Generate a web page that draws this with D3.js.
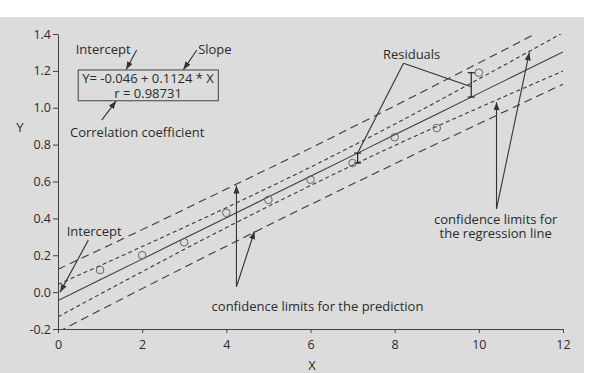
<!DOCTYPE html>
<html>
<head>
<meta charset="utf-8">
<script src="https://cdn.jsdelivr.net/npm/d3@7"></script>
<style>
  body { margin: 0; background: #fff; }
  svg text { font-family: "Open Sans", sans-serif; fill: #2b2b2b; }
</style>
</head>
<body>
<div id="chart"></div>
<script>
// observed points
const xValues = [1, 2, 3, 4, 5, 6, 7, 8, 9, 10];
const yValues = [0.12, 0.2, 0.27, 0.43, 0.5, 0.61, 0.7, 0.84, 0.89, 1.19];

// regression line Y = -0.046 + 0.1124 * X, read at the band stations
const bandX = [0, 2, 4, 6, 8, 10, 12];
const fitY = [-0.046, 0.179, 0.404, 0.628, 0.853, 1.078, 1.303];
// confidence limits for the regression line (short dash)
const ciUpper = [0.042, 0.247, 0.458, 0.678, 0.911, 1.156, 1.407];
const ciLower = [-0.134, 0.111, 0.35, 0.578, 0.795, 1.0, 1.199];
// confidence limits for the prediction (long dash)
const piUpper = [0.124, 0.339, 0.559, 0.781, 1.01, 1.243, 1.478];
const piLower = [-0.216, 0.019, 0.249, 0.475, 0.696, 0.913, 1.128];

// residual bars drawn beside two points
const residualX = [7.12, 9.82];
const residualFrom = [0.754, 1.058];
const residualTo = [0.7, 1.19];

const xTicks = [0, 2, 4, 6, 8, 10, 12];
const yTicks = [-0.2, 0, 0.2, 0.4, 0.6, 0.8, 1.0, 1.2, 1.4];

const W = 605, H = 373;

const svg = d3
  .select("#chart")
  .append("svg")
  .attr("width", W)
  .attr("height", H);

// grey panel
svg.append("rect")
  .attr("x", 0).attr("y", 17)
  .attr("width", 584).attr("height", H - 17)
  .attr("fill", "#dcdcdc");

const x = d3.scaleLinear().domain([0, 12]).range([58, 563]);
const y = d3.scaleLinear().domain([-0.2, 1.4]).range([329, 34]);

// arrow head
svg.append("defs")
  .append("marker")
  .attr("id", "head")
  .attr("markerUnits", "userSpaceOnUse")
  .attr("markerWidth", 9)
  .attr("markerHeight", 7)
  .attr("refX", 8)
  .attr("refY", 3)
  .attr("orient", "auto")
  .append("path")
  .attr("d", "M0,0L8,3L0,6Z")
  .attr("fill", "#333");

svg.append("clipPath")
  .attr("id", "plot")
  .append("rect")
  .attr("x", 58).attr("y", 34)
  .attr("width", 505).attr("height", 295);

// axes
const xAxis = svg.append("g")
  .attr("transform", `translate(0,${y(-0.2)})`)
  .call(d3.axisBottom(x).tickValues(xTicks).tickSize(4).tickSizeOuter(0).tickFormat(d3.format("d")));

const yAxis = svg.append("g")
  .attr("transform", `translate(${x(0)},0)`)
  .call(d3.axisLeft(y).tickValues(yTicks).tickSize(5).tickSizeOuter(0).tickFormat((d) => d.toFixed(1)));

[xAxis, yAxis].forEach((g) => {
  g.selectAll("path, line").attr("stroke", "#444");
  g.selectAll("text").attr("font-size", 12.5).attr("fill", "#2b2b2b").style("font-family", "Open Sans");
});
xAxis.selectAll("text").attr("dy", "1.05em");
yAxis.selectAll("text").attr("x", -7);

svg.append("text").attr("x", 312).attr("y", 370).attr("text-anchor", "middle").attr("font-size", 13).text("X");
svg.append("text").attr("x", 20).attr("y", 132).attr("text-anchor", "middle").attr("font-size", 13).text("Y");

// lines
const line = d3.line().x((d) => x(d[0])).y((d) => y(d[1])).curve(d3.curveMonotoneX);
const lines = svg.append("g").attr("clip-path", "url(#plot)");

function band(vals, dash) {
  lines.append("path")
    .datum(bandX.map((v, i) => [v, vals[i]]))
    .attr("d", line)
    .attr("fill", "none")
    .attr("stroke", "#3a3a3a")
    .attr("stroke-width", 1.1)
    .attr("stroke-dasharray", dash);
}
band(piUpper, "8,5");
band(piLower, "8,5");
band(ciUpper, "4,3");
band(ciLower, "4,3");
band(fitY, null);

// points
svg.append("g")
  .selectAll("circle")
  .data(xValues)
  .join("circle")
  .attr("cx", (d) => x(d))
  .attr("cy", (d, i) => y(yValues[i]))
  .attr("r", 3.8)
  .attr("fill", "none")
  .attr("stroke", "#666")
  .attr("stroke-width", 1);

// residual bars
residualX.forEach((rx, i) => {
  const g = svg.append("g").attr("stroke", "#222").attr("stroke-width", 1.2);
  g.append("line").attr("x1", x(rx)).attr("x2", x(rx)).attr("y1", y(residualFrom[i])).attr("y2", y(residualTo[i]));
  [residualFrom[i], residualTo[i]].forEach((v) => {
    g.append("line").attr("x1", x(rx) - 3.5).attr("x2", x(rx) + 3.5).attr("y1", y(v)).attr("y2", y(v));
  });
});

// annotations
const note = svg.append("g");

function label(tx, ty, str, anchor) {
  note.append("text")
    .attr("x", x(tx)).attr("y", y(ty))
    .attr("text-anchor", anchor || "start")
    .attr("font-size", 13)
    .text(str);
}

function arrow(x1, y1, x2, y2, head) {
  const l = note.append("line")
    .attr("x1", x(x1)).attr("y1", y(y1))
    .attr("x2", x(x2)).attr("y2", y(y2))
    .attr("stroke", "#333")
    .attr("stroke-width", 1.1);
  if (head !== false) l.attr("marker-end", "url(#head)");
}

// equation box
note.append("rect")
  .attr("x", x(0.48)).attr("y", y(1.205))
  .attr("width", x(3.81) - x(0.48)).attr("height", y(1.038) - y(1.205))
  .attr("fill", "none").attr("stroke", "#444").attr("stroke-width", 1);
label(2.14, 1.132, "Y= -0.046 + 0.1124 * X", "middle");
label(2.14, 1.055, "r = 0.98731", "middle");

label(0.42, 1.29, "Intercept");
arrow(1.87, 1.313, 1.62, 1.207);
label(3.33, 1.29, "Slope");
arrow(3.30, 1.313, 2.98, 1.207);
label(0.285, 0.843, "Correlation coefficient");
arrow(1.04, 0.933, 1.38, 1.036);

label(7.72, 1.265, "Residuals");
arrow(8.21, 1.241, 7.12, 0.754, false);
arrow(8.21, 1.241, 9.82, 1.114, false);

label(0.207, 0.304, "Intercept");
arrow(0.72, 0.282, 0.05, 0.0);

label(3.65, -0.101, "confidence limits for the prediction");
arrow(4.24, 0.029, 4.24, 0.578);
arrow(4.24, 0.029, 4.67, 0.33);

label(10.4, 0.368, "confidence limits for", "middle");
label(10.4, 0.295, "the regression line", "middle");
arrow(10.42, 0.451, 10.42, 1.03);
arrow(10.42, 0.451, 11.2, 1.3);
</script>
</body>
</html>
